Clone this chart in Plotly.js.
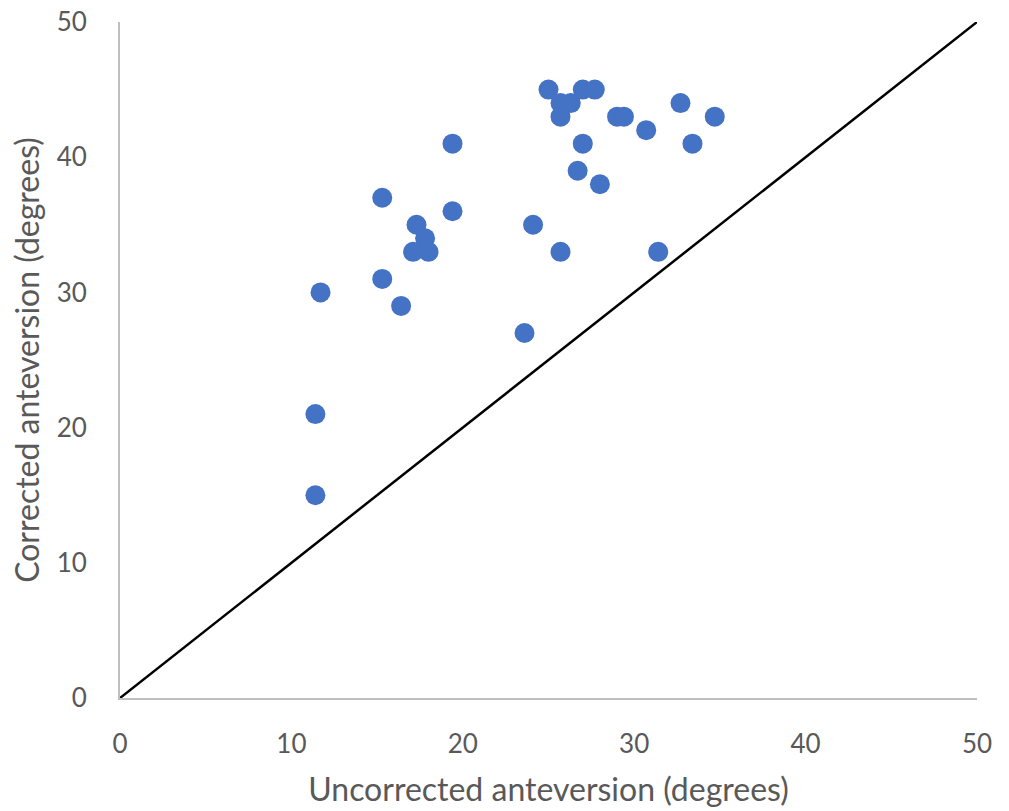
<!DOCTYPE html>
<html>
<head>
<meta charset="utf-8">
<script src="https://cdn.plot.ly/plotly-3.0.1.min.js"></script>
<style>html,body{margin:0;padding:0;background:#fff;}#chart{width:1009px;height:811px;}</style>
</head>
<body>
<div id="chart"></div>
<script>
const uncorrected = [19.4, 15.3, 19.4, 17.3, 17.8, 17.1, 18.0, 15.3, 11.7, 16.4,
  11.4, 11.4,
  25.0, 25.7, 26.3, 25.7, 27.0, 27.7, 29.0, 29.4, 32.7, 34.7, 30.7, 27.0, 33.4, 26.7, 28.0, 24.1, 25.7, 31.4, 23.6];
const corrected = [41, 37, 36, 35, 34, 33, 33, 31, 30, 29,
  21, 15,
  45, 44, 44, 43, 45, 45, 43, 43, 44, 43, 42, 41, 41, 39, 38, 35, 33, 33, 27];
const lineX = [0, 50];
const lineY = [0, 50];
const xTicks = [0, 10, 20, 30, 40, 50];
const yTicks = [0, 10, 20, 30, 40, 50];

const font = 'Lato, "Open Sans", sans-serif';
const traces = [
  {x: lineX, y: lineY, mode: 'lines', type: 'scatter', line: {color: '#000000', width: 2.5}, hoverinfo: 'skip'},
  {x: uncorrected, y: corrected, mode: 'markers', type: 'scatter', marker: {color: '#4472C4', size: 20}}
];
const layout = {
  width: 1009, height: 811,
  margin: {l: 120, r: 32, t: 22, b: 113},
  showlegend: false,
  paper_bgcolor: '#ffffff', plot_bgcolor: '#ffffff',
  font: {family: font, color: '#595959', size: 26},
  xaxis: {
    range: [0, 50], tickvals: xTicks, ticktext: xTicks.map(String), showgrid: false, zeroline: false,
    showline: true, linecolor: '#bfbfbf', linewidth: 2, ticks: '', ticklabelstandoff: 22,
    tickfont: {family: font, size: 26, color: '#595959'},
    title: {text: 'Uncorrected anteversion (degrees)', font: {family: font, size: 32, color: '#595959'}, standoff: 20}
  },
  yaxis: {
    range: [0, 50], tickvals: yTicks, ticktext: yTicks.map(String), showgrid: false, zeroline: false,
    showline: true, linecolor: '#bfbfbf', linewidth: 2, ticks: '', ticklabelstandoff: 26,
    tickfont: {family: font, size: 26, color: '#595959'},
    title: {text: 'Corrected anteversion (degrees)', font: {family: font, size: 32, color: '#595959'}, standoff: 7}
  }
};
Plotly.newPlot('chart', traces, layout, {displayModeBar: false, staticPlot: true});
</script>
</body>
</html>
